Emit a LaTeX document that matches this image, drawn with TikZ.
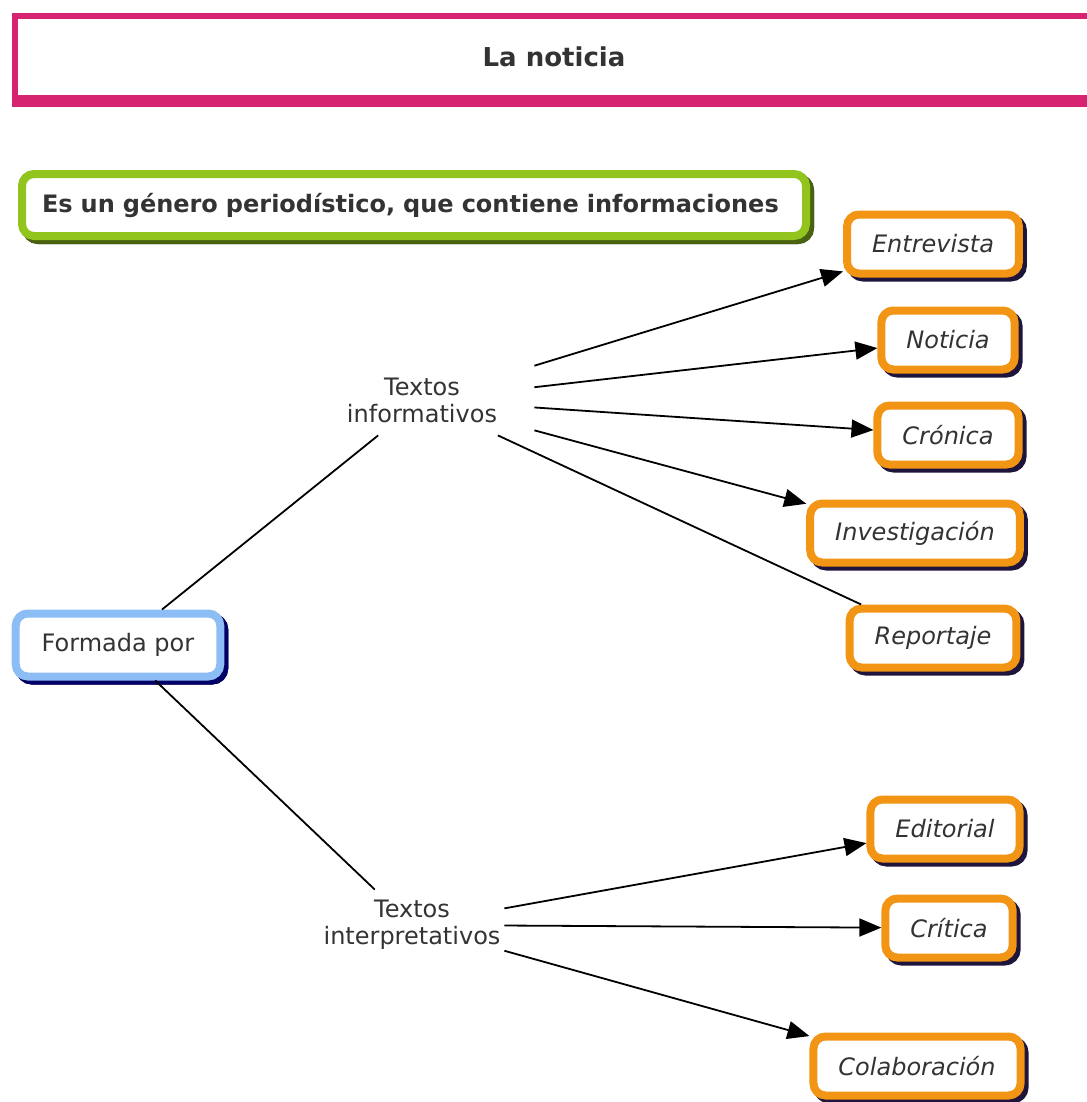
\documentclass[tikz,border=0pt]{standalone}
\usepackage{fontspec}
\setmainfont{DejaVu Sans}
\usetikzlibrary{shadows}
\usetikzlibrary{arrows.meta}
\definecolor{rosa}{RGB}{214,36,112}
\definecolor{verde}{RGB}{146,196,30}
\definecolor{naranja}{RGB}{242,148,20}
\definecolor{celeste}{RGB}{140,190,245}
\definecolor{sombra}{RGB}{30,20,60}
\tikzset{
  caja/.style={rounded corners=6pt, line width=4pt, fill=white, text=black!80,
    drop shadow={shadow xshift=2pt, shadow yshift=-2pt, fill=sombra, draw=sombra, line width=4pt, opacity=1}},
  tipo/.style={caja, draw=naranja, inner xsep=12.5pt, minimum height=29.5pt,
    font=\fontsize{12}{14}\selectfont\itshape},
  etiqueta/.style={align=center, inner sep=0pt, minimum height=35pt, text=black!80,
    font=\fontsize{12}{13.5}\selectfont},
  flecha/.style={-{Triangle[length=11pt,width=9pt]}, line width=0.9pt},
  linea/.style={line width=0.9pt}
}

\begin{document}
\begin{tikzpicture}[x=0.5pt,y=-0.5pt]
\useasboundingbox (0,0) rectangle (1086,1102);

\node[draw=rosa, fill=white, line width=3pt, minimum width=539pt, minimum height=41pt,
  text=black!80, font=\fontsize{13}{15}\selectfont\bfseries,
  drop shadow={shadow xshift=0pt, shadow yshift=-3pt, fill=rosa, draw=rosa, line width=3pt, opacity=1}]
  (titulo) at (554,57) {La noticia};

\node[caja, draw=verde, drop shadow={shadow xshift=2pt, shadow yshift=-2pt, fill=verde!50!black, draw=verde!50!black, line width=4pt, opacity=1},
  text width=372pt, inner xsep=10pt, minimum height=31pt, align=left,
  font=\fontsize{12}{14}\selectfont\bfseries]
  (definicion) at (414,205) {Es un género periodístico, que contiene informaciones};

\node[caja, draw=celeste, drop shadow={shadow xshift=2pt, shadow yshift=-2pt, fill=blue!40!black, draw=blue!40!black, line width=4pt, opacity=1},
  inner xsep=13pt, minimum height=31.5pt, font=\fontsize{12}{14}\selectfont]
  (formada) at (118,645) {Formada por};

\node[etiqueta, minimum width=112pt] (informativos) at (422,400) {Textos\\informativos};
\node[etiqueta, minimum width=92pt] (interpretativos) at (412,925) {Textos\\interpretativos};

\node[tipo] (entrevista) at (933,244) {Entrevista};
\node[tipo] (noticia) at (948,340) {Noticia};
\node[tipo] (cronica) at (948,435) {Crónica};
\node[tipo] (investigacion) at (915,533) {Investigación};
\node[tipo] (reportaje) at (933,638) {Reportaje};
\node[tipo] (editorial) at (945,829) {Editorial};
\node[tipo] (critica) at (949,928) {Crítica};
\node[tipo] (colaboracion) at (917,1066) {Colaboración};

\draw[linea] (formada) -- (informativos);
\draw[linea] (formada) -- (interpretativos);

\draw[flecha] (informativos) -- (entrevista);
\draw[flecha] (informativos) -- (noticia);
\draw[flecha] (informativos) -- (cronica);
\draw[flecha] (informativos) -- (investigacion);
\draw[linea] (informativos) -- (reportaje);

\draw[flecha] (interpretativos) -- (editorial);
\draw[flecha] (interpretativos) -- (critica);
\draw[flecha] (interpretativos) -- (colaboracion);

\end{tikzpicture}
\end{document}
